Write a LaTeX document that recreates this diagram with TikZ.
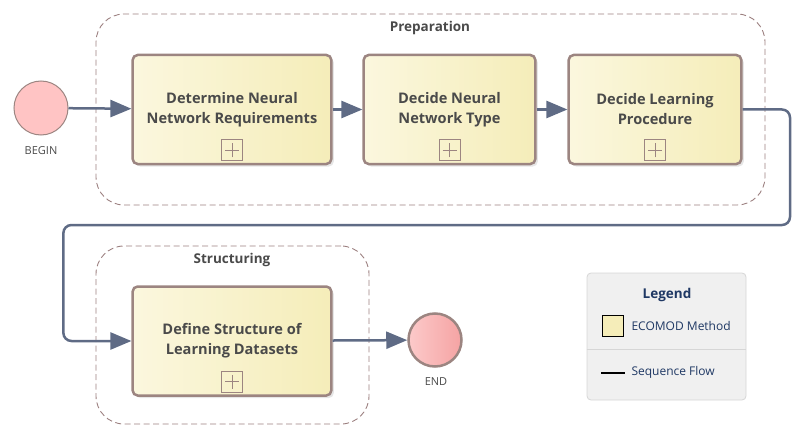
\documentclass[tikz,border=0pt]{standalone}
\usepackage{fontspec}
\setmainfont{Open Sans}
\usetikzlibrary{arrows.meta,shadows,positioning}
\definecolor{boxedge}{HTML}{9C8581}
\definecolor{boxlight}{HTML}{FBF7DE}
\definecolor{boxdark}{HTML}{F5EDB9}
\definecolor{flowline}{HTML}{5F6B85}
\definecolor{labeltext}{HTML}{4A4A4A}
\definecolor{poolline}{HTML}{9C8080}
\definecolor{startfill}{HTML}{FFC4C4}
\definecolor{endlight}{HTML}{FCCACA}
\definecolor{enddark}{HTML}{F5A3A3}
\definecolor{legendfill}{HTML}{F0F0F0}
\definecolor{legendline}{HTML}{D6D6D6}
\definecolor{legendtext}{HTML}{1F3864}
\begin{document}
\begin{tikzpicture}
[x=1pt,y=-1pt,
  methodbox/.style={draw=boxedge,line width=2.5pt,rounded corners=5pt,
    left color=boxlight,right color=boxdark,minimum height=109pt,
    align=center,text=labeltext,font=\bfseries\fontsize{14.6}{20}\selectfont,
    drop shadow={shadow xshift=2.5pt,shadow yshift=-2.5pt,opacity=0.2}},
  plusbox/.style={draw=boxedge,line width=0.8pt,minimum size=21pt,inner sep=0pt,
    path picture={\draw[boxedge,line width=0.8pt]
      ([xshift=-7pt]path picture bounding box.center) -- ([xshift=7pt]path picture bounding box.center)
      ([yshift=-7pt]path picture bounding box.center) -- ([yshift=7pt]path picture bounding box.center);}},
  poolbox/.style={draw=poolline,dash pattern=on 6pt off 3.5pt,line width=0.9pt,rounded corners=28pt},
  poollabel/.style={text=labeltext,font=\bfseries\fontsize{13.5}{16}\selectfont},
  eventlabel/.style={text=labeltext,font=\fontsize{11}{12}\selectfont},
  flow/.style={draw=flowline,line width=2.5pt,-{Triangle[length=21pt,width=17pt]}},
  legendtxt/.style={text=legendtext,font=\fontsize{12}{14}\selectfont,anchor=west}]
\useasboundingbox (0,0) rectangle (807,444);
%% pools
\node[poolbox,minimum width=669pt,minimum height=191pt] (preparation) at (430.5,109.5) {};
\node[poollabel] (preparation-label) at (430,28) {Preparation};
\node[poolbox,minimum width=273pt,minimum height=178pt] (structuring) at (232.5,335) {};
\node[poollabel] (structuring-label) at (232,260) {Structuring};
%% events
\node[circle,draw=boxedge,line width=1pt,fill=startfill,minimum size=54pt] (begin) at (41,108) {};
\node[eventlabel] (begin-label) at (41,151) {BEGIN};
\node[circle,draw=boxedge,line width=2.5pt,left color=endlight,right color=enddark,minimum size=53pt] (end) at (435,340) {};
\node[eventlabel] (end-label) at (436,382) {END};
%% methods
\foreach \nodename/\x/\y/\w/\txt in {
  determine/232/109.5/192/{Determine Neural\\Network Requirements},
  type/449.5/109.5/165/{Decide Neural\\Network Type},
  procedure/655/109.5/166/{Decide Learning\\Procedure},
  structure/232/341/192/{Define Structure of\\Learning Datasets}} {
  \node[methodbox,minimum width=\w pt] (\nodename) at (\x,\y) {\raisebox{6pt}{\parbox{\w pt}{\centering\txt}}};
  \node[plusbox] (\nodename-plus) at ([yshift=15pt]\nodename.south) {};
}
%% sequence flows
\draw[flow] (begin) -- (determine);
\draw[flow] (determine) -- (type);
\draw[flow] (type) -- (procedure);
\draw[flow,rounded corners=8pt] (procedure.east) -| (790,225) -| ([xshift=-68pt]structure.west) -- (structure.west);
\draw[flow] (structure) -- (end);
%% legend
\node[draw=legendline,fill=legendfill,rounded corners=4pt,line width=0.8pt,
  minimum width=159pt,minimum height=127pt] (legend) at (666.5,336.5) {};
\node[text=legendtext,font=\bfseries\fontsize{13.5}{16}\selectfont] (legend-title) at (667,295) {Legend};
\node[draw=black,line width=0.8pt,fill=boxdark,minimum size=21pt,inner sep=0pt] (legend-swatch) at (613,326) {};
\node[legendtxt] (legend-method) at (628,326) {ECOMOD Method};
\draw[legendline,line width=0.8pt] (legend.west |- 0,349) -- (legend.east |- 0,349);
\coordinate (seq-a) at (601,373);
\coordinate (seq-b) at (625,373);
\draw[black,line width=2.5pt] (seq-a) -- (seq-b);
\node[legendtxt] (legend-seq) at (628,372) {Sequence Flow};
\end{tikzpicture}
\end{document}
